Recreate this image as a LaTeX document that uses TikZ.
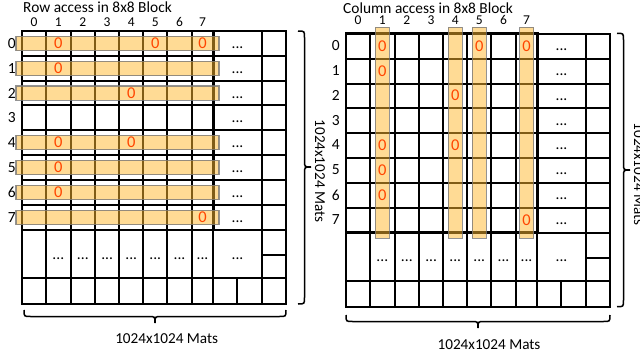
\documentclass[tikz,border=0pt]{standalone}
\usepackage{fontspec}
\setmainfont{Carlito}
\definecolor{barfill}{RGB}{255,185,45}
\definecolor{zerored}{RGB}{255,69,0}
\definecolor{bargray}{RGB}{120,120,120}
\tikzset{
  gridline/.style={line width=2pt, line cap=rect},
  blockline/.style={line width=2.8pt},
  accbar/.style={fill=barfill, fill opacity=0.5, draw=bargray, draw opacity=0.8, line width=1.2pt},
  zero/.style={text=zerored, font=\fontsize{16.5}{19}\selectfont, inner sep=0pt},
  dots/.style={font=\fontsize{15.5}{18}\selectfont, inner sep=0pt},
  rowlbl/.style={font=\fontsize{15.5}{18}\selectfont, inner sep=0pt},
  collbl/.style={font=\fontsize{13.5}{16}\selectfont, inner sep=0pt, text height=7pt, text depth=0pt},
  ttl/.style={font=\fontsize{15.4}{18}\selectfont, inner sep=0pt, anchor=base west},
  bracepath/.style={line width=1.5pt},
  mats/.style={font=\fontsize{15.2}{18}\selectfont, inner sep=0pt}
}
\newcommand\matgrid[1]{%
  \draw[gridline] (22,31) rectangle (286,304);
  \foreach \x in {46,70.7,95,119.3,143.3,167.3,191.7,213.3,261.7}
    \draw[gridline] (\x,31) -- (\x,304);
  \draw[gridline] (237.3,278.3) -- (237.3,304);
  \foreach \y in {56,81,105.3,130,155,180,205,230,278.3}
    \draw[gridline] (22,\y) -- (286,\y);
  \draw[gridline] (261.7,255) -- (286,255);
  \draw[blockline] (22,31) rectangle (213.3,230);
  \foreach \r [count=\i] in {43.5,68.5,93.15,117.65,142.5,167.5,192.5,217.5}
    \node[dots] (#1-rd\i) at (237.5,\r) {\vphantom{0}...};
  \foreach \c [count=\i] in {58.35,82.85,107.15,131.3,155.3,179.5,202.5,237.5}
    \node[dots] (#1-bd\i) at (\c,254.15) {\vphantom{0}...};
  \foreach \r [count=\i from 0] in {43.5,68.5,93.15,117.65,142.5,167.5,192.5,217.5}
    \node[rowlbl] (#1-row\i) at (11.7,\r) {\i};
}
\newcommand\matzeros[1]{%
  \foreach \c/\r [count=\i] in {58.35/43.5,155.3/43.5,202.5/43.5,58.35/68.5,131.3/93.15,58.35/142.5,131.3/142.5,58.35/167.5,58.35/192.5,202.5/217.5}
    \node[zero] (#1-z\i) at (\c,\r) {0};
}
\begin{document}
\begin{tikzpicture}[x=1pt,y=-1pt]
\useasboundingbox (0,0) rectangle (640,356);
\fill[white] (0,0) rectangle (640,356);

% ---------------- left panel: row access ----------------
\node[ttl] (ltitle) at (23,12.7) {Row access in 8x8 Block};
\foreach \c [count=\i from 0] in {34,58.35,82.85,107.15,131.3,155.3,179.5,202.5}
  \node[collbl] (lcol\i) at (\c,23.3) {\i};
\matgrid{L}
\foreach \r [count=\i] in {43.5,68.5,93.15,142.5,167.5,192.5,217.5}
  \draw[accbar] (16,\r-7.25) rectangle (219,\r+7.25);
\matzeros{L}

% right brace and label (left panel)
\draw[bracepath] (298,31) .. controls (304.5,31) .. (304.5,37.5) -- (304.5,160.5)
  .. controls (304.5,167) .. (311,167) .. controls (304.5,167) .. (304.5,173.5)
  -- (304.5,297.5) .. controls (304.5,304) .. (298,304);
\node[mats, rotate=-90] (lmatsv) at (320,171) {1024x1024 Mats};
% bottom brace and label (left panel)
\draw[bracepath] (286,310) .. controls (286,316.5) .. (279.5,316.5) -- (161.5,316.5)
  .. controls (155,316.5) .. (155,323) .. controls (155,316.5) .. (148.5,316.5)
  -- (30.5,316.5) .. controls (24,316.5) .. (24,310);
\node[mats] (lmatsh) at (166.7,338.5) {1024x1024 Mats};

% ---------------- right panel: column access ----------------
\node[ttl] (rtitle) at (343,13.3) {Column access in 8x8 Block};
\foreach \c [count=\i from 0] in {358,382.35,406.85,431.15,455.3,479.3,503.5,526.5}
  \node[collbl] (rcol\i) at (\c,21.4) {\i};
\begin{scope}[shift={(324,2.5)}]
  \matgrid{R}
  \foreach \c in {58.35,131.3,155.3,202.5}
    \draw[accbar] (\c-7,24.8) rectangle (\c+7,235.8);
  \matzeros{R}
\end{scope}

% right brace and label (right panel)
\draw[bracepath] (617,33.3) .. controls (623.5,33.3) .. (623.5,39.8) -- (623.5,163.5)
  .. controls (623.5,170) .. (630,170) .. controls (623.5,170) .. (623.5,176.5)
  -- (623.5,300.2) .. controls (623.5,306.7) .. (617,306.7);
\node[mats, rotate=-90] (rmatsv) at (639,174) {1024x1024 Mats};
% bottom brace and label (right panel)
\draw[bracepath] (610,315) .. controls (610,321.5) .. (603.5,321.5) -- (484.5,321.5)
  .. controls (478,321.5) .. (478,328) .. controls (478,321.5) .. (471.5,321.5)
  -- (352.5,321.5) .. controls (346,321.5) .. (346,315);
\node[mats] (rmatsh) at (489,345) {1024x1024 Mats};
\end{tikzpicture}
\end{document}
